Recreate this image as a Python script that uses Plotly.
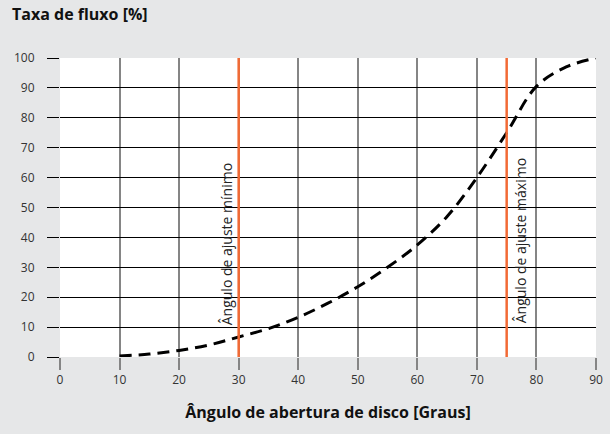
import plotly.graph_objects as go

# curva de taxa de fluxo
angulo = [10, 15, 20, 25, 30, 35, 40, 45, 50, 55, 60, 65, 70, 75, 80, 85, 90]
taxa = [0.3, 1.0, 2.2, 4.0, 6.7, 9.5, 13.3, 18.0, 23.5, 30.0, 37.5, 47.0, 60.0, 75.0, 90.5, 97.0, 100.0]

ajuste_angulos = [30, 75]
ajuste_textos = ["Ângulo de ajuste mínimo", "Ângulo de ajuste máximo"]

x_ticks = [0, 10, 20, 30, 40, 50, 60, 70, 80, 90]
y_ticks = [0, 10, 20, 30, 40, 50, 60, 70, 80, 90, 100]

FONT = "Open Sans"
LARANJA = "#f26a35"

fig = go.Figure()
fig.add_trace(go.Scatter(
    x=angulo, y=taxa, mode="lines", line_shape="spline",
    line=dict(color="black", width=3, dash="12px,7px"),
    showlegend=False, hoverinfo="skip",
))

for a in ajuste_angulos:
    fig.add_vline(x=a, line_color=LARANJA, line_width=2.5, layer="above")

fig.add_annotation(x=ajuste_angulos[0], y=10, text=ajuste_textos[0], textangle=-90,
                   xanchor="right", yanchor="bottom", showarrow=False, xshift=-1,
                   font=dict(family=FONT, size=14, color="#222"))
fig.add_annotation(x=ajuste_angulos[1], y=10.5, text=ajuste_textos[1], textangle=-90,
                   xanchor="left", yanchor="bottom", showarrow=False, xshift=2,
                   font=dict(family=FONT, size=14, color="#222"))

fig.update_layout(
    width=610, height=434,
    margin=dict(l=60, r=14, t=58, b=77),
    paper_bgcolor="#e6e7e8", plot_bgcolor="white",
    font=dict(family=FONT, size=12, color="#333"),
    title=dict(text="<b>Taxa de fluxo [%]</b>", x=12 / 610, xanchor="left",
               y=1 - 9 / 434, yanchor="top", font=dict(family=FONT, size=16, color="#111")),
    xaxis=dict(range=[0, 90], tickvals=x_ticks, showgrid=True, gridcolor="#858585", gridwidth=2,
               ticks="outside", ticklen=12, tickcolor="#858585", tickwidth=2,
               zeroline=False, showline=False, automargin=False,
               title=dict(text="<b>Ângulo de abertura de disco [Graus]</b>", standoff=19,
                          font=dict(family=FONT, size=16, color="#111"))),
    yaxis=dict(range=[0, 100], tickvals=y_ticks, showgrid=True, gridcolor="black", gridwidth=1,
               ticks="outside", ticklen=12, tickcolor="black", tickwidth=1,
               zeroline=False, showline=False, ticklabelstandoff=10, automargin=False),
)

# sem margem do body, para a figura ocupar a janela toda
fig.write_html("out.html", config={"displayModeBar": False},
               post_script="document.body.style.margin='0';")
